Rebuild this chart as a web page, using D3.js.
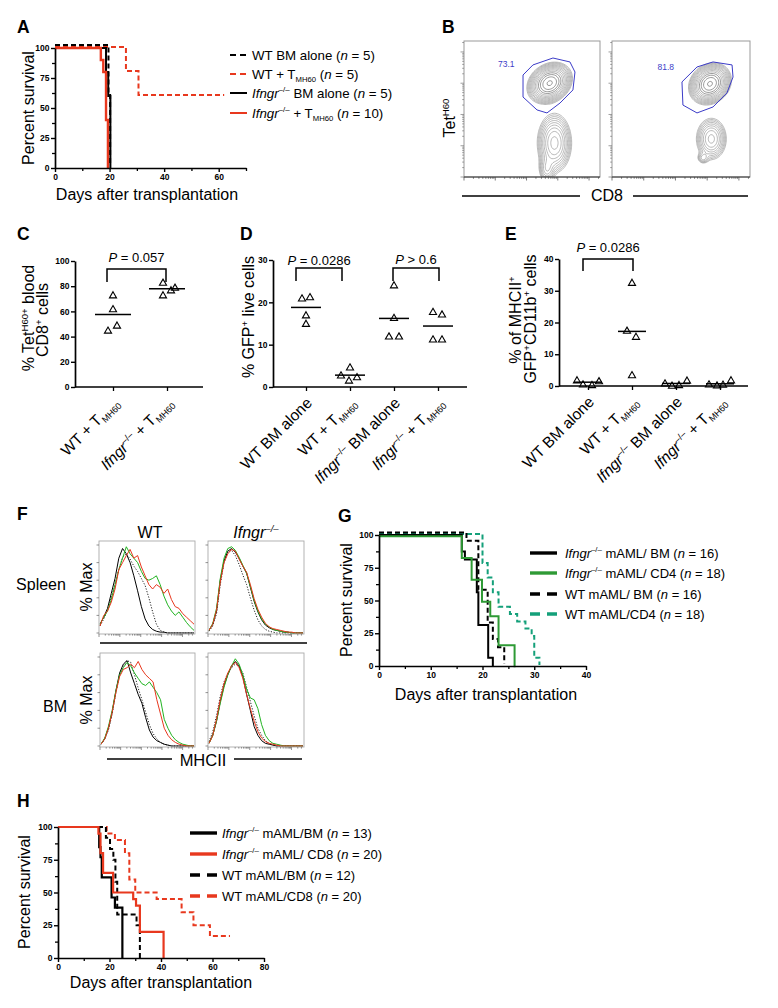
<!DOCTYPE html>
<html>
<head>
<meta charset="utf-8">
<script src="https://cdn.jsdelivr.net/npm/d3@7/dist/d3.min.js"></script>
<style>
html,body{margin:0;padding:0;background:#fff;}
svg text{font-family:"Liberation Sans",Arial,Helvetica,sans-serif;}
</style>
</head>
<body>
<svg id="fig" width="778" height="1008" xmlns="http://www.w3.org/2000/svg"></svg>
<script>
// ================= DATA =================
// ---- Panel A : survival (days, percent) ----
const aWtBmDays = [0, 19.6, 20.2];
const aWtBmSurv = [100, 60, 0];
const aWtTDays  = [0, 26, 30.6, 62];
const aWtTSurv  = [100, 80, 60, 60];
const aKoBmDays = [0, 18.7, 19.5, 20.3];
const aKoBmSurv = [100, 80, 60, 0];
const aKoTDays  = [0, 16.8, 17.7, 18.7, 19.4];
const aKoTSurv  = [100, 90, 80, 40, 0];
const aXTicks = [0, 20, 40, 60];
const aXMinor = [10, 30, 50, 70];
const survYTicks = [0, 25, 50, 75, 100];
const survYMinor = [12.5, 37.5, 62.5, 87.5];
const aLegend = [
  [["WT BM alone ("], ["n", "i"], [" = 5)"]],
  [["WT + T"], ["MH60", "sub"], [" ("], ["n", "i"], [" = 5)"]],
  [["Ifngr", "i"], ["–/–", "sup"], [" BM alone ("], ["n", "i"], [" = 5)"]],
  [["Ifngr", "i"], ["–/–", "sup"], [" + T"], ["MH60", "sub"], [" ("], ["n", "i"], [" = 10)"]]
];

// ---- Panel B : flow contour plots (populations in normalised axis units) ----
const bGateValues = ["73.1", "81.8"];
// [cx, cy, sx, sy, angleDeg, weight]
const bLeftPops = [[0.63, 0.69, 0.066, 0.052, 35, 1.0], [0.665, 0.25, 0.055, 0.095, 0, 0.35], [0.61, 0.06, 0.03, 0.05, 0, 0.12]];
const bRightPops = [[0.71, 0.685, 0.062, 0.052, 45, 1.0], [0.72, 0.28, 0.05, 0.07, 0, 0.26], [0.66, 0.14, 0.022, 0.022, 0, 0.08]];
const bLeftGate = [[0.434, 0.75], [0.507, 0.824], [0.654, 0.875], [0.779, 0.846], [0.816, 0.772], [0.801, 0.64], [0.706, 0.544], [0.61, 0.471], [0.537, 0.493], [0.434, 0.588]];
const bRightGate = [[0.507, 0.699], [0.616, 0.809], [0.732, 0.846], [0.87, 0.824], [0.877, 0.735], [0.833, 0.618], [0.732, 0.515], [0.616, 0.471], [0.514, 0.529]];

// ---- Panel C ----
const cCats = [
  [["WT + T"], ["MH60", "sub"]],
  [["Ifngr", "i"], ["–/–", "sup"], [" + T"], ["MH60", "sub"]]
];
const cWt = [73, 62, 45, 49];
const cKo = [83, 73, 77, 79];
const cMedians = [57.5, 78];
const cYTicks = [0, 20, 40, 60, 80, 100];
const cP = "0.057";

// ---- Panel D ----
const deCats = [
  [["WT BM alone"]],
  [["WT + T"], ["MH60", "sub"]],
  [["Ifngr", "i"], ["–/–", "sup"], [" BM alone"]],
  [["Ifngr", "i"], ["–/–", "sup"], [" + T"], ["MH60", "sub"]]
];
const dWtBm = [21, 21.3, 17, 15];
const dWtT  = [4.7, 2.8, 1.6, 2.4];
const dKoBm = [24.1, 16.4, 12, 12];
const dKoT  = [17.8, 17.2, 11.3, 11.3];
const dMedians = [18.8, 2.8, 16.2, 14.4];
const dYTicks = [0, 10, 20, 30];
const dP = ["= 0.0286", "> 0.6"];

// ---- Panel E ----
const eWtBm = [1.9, 0.6, 0.4, 1.6];
const eWtT  = [32.6, 17.5, 15.6, 3.5];
const eKoBm = [0.9, 0.2, 0.4, 1.8];
const eKoT  = [0.6, 0.3, 0.5, 1.9];
const eMedians = [1.2, 17.2, 0.8, 0.7];
const eYTicks = [0, 10, 20, 30, 40];
const eP = "= 0.0286";

// ---- Panel F : MHCII histograms (% of max, 26 channels) ----
const fSpWtBlack = [10,18,28,45,62,85,96,90,80,65,48,30,16,8,4,2,1,1,0,0,0,0,0,0,0,0];
const fSpWtDot   = [8,16,26,40,55,72,86,90,84,76,70,62,54,40,24,10,3,1,0,0,0,0,0,0,0,0];
const fSpWtGreen = [10,18,25,38,55,72,85,98,90,85,80,70,62,60,62,65,55,42,32,25,20,24,18,12,7,3];
const fSpWtRed   = [8,20,25,35,50,72,80,88,95,85,88,75,65,55,50,55,52,45,50,38,30,28,22,18,14,10];
const fSpKoBlack = [3,10,25,60,82,93,96,92,85,76,68,52,36,24,15,9,6,4,3,2,1,1,0,0,0,0];
const fSpKoDot   = [2,8,22,55,80,92,94,88,78,66,55,40,26,15,8,4,2,1,0,0,0,0,0,0,0,0];
const fSpKoGreen = [3,11,28,62,85,96,98,94,86,77,68,53,37,25,16,10,7,4,3,2,1,1,0,0,0,0];
const fSpKoRed   = [3,10,26,58,80,90,95,93,84,76,69,55,39,27,18,11,7,5,4,3,2,1,1,0,0,0];
const fBmWtBlack = [2,8,20,38,62,82,92,96,82,70,58,48,32,18,10,6,4,2,1,0,0,0,0,0,0,0];
const fBmWtDot   = [2,8,18,36,60,80,90,96,94,80,65,52,38,24,14,8,4,2,1,0,0,0,0,0,0,0];
const fBmWtGreen = [2,9,22,40,62,80,88,94,90,82,76,70,68,72,66,60,52,30,20,12,7,4,2,1,0,0];
const fBmWtRed   = [2,8,20,38,60,78,86,88,92,88,95,86,80,76,72,52,36,20,12,7,4,2,1,0,0,0];
const fBmKoBlack = [3,12,28,50,68,80,90,95,90,78,58,40,22,12,6,3,2,1,0,0,0,0,0,0,0,0];
const fBmKoDot   = [5,16,34,56,72,82,88,92,90,82,66,50,34,20,12,6,3,1,0,0,0,0,0,0,0,0];
const fBmKoGreen = [3,12,28,48,66,80,90,98,92,80,64,54,52,42,24,12,6,3,2,1,0,0,0,0,0,0];
const fBmKoRed   = [3,12,30,52,70,82,90,94,88,76,58,42,28,16,9,5,3,2,1,0,0,0,0,0,0,0];
const fYTicks = [0, 20, 40, 60, 80, 100];

// ---- Panel G : survival ----
const gKoBmDays  = [0, 16, 16.6, 18.9, 19.2, 21.1, 22];
const gKoBmSurv  = [100, 87.5, 81.25, 56.25, 31.25, 6.25, 0];
const gKoCd4Days = [0, 16, 17.9, 19.9, 21.5, 23.1, 26.2];
const gKoCd4Surv = [100, 83.3, 66.7, 50, 38.9, 16.7, 0];
const gWtBmDays  = [0, 16.9, 19.2, 21, 22, 23, 24.2];
const gWtBmSurv  = [100, 93.75, 56.25, 31.25, 18.75, 12.5, 0];
const gWtCd4Days = [0, 20, 21, 22, 23.1, 25.3, 26.7, 28.3, 29.5, 30, 31];
const gWtCd4Surv = [100, 77.8, 66.7, 55.6, 44.4, 38.9, 33.3, 27.8, 22.2, 5.6, 0];
const gXTicks = [0, 10, 20, 30, 40];
const gXMinor = [5, 15, 25, 35];
const gLegend = [
  [["Ifngr", "i"], ["–/–", "sup"], [" mAML/ BM ("], ["n", "i"], [" = 16)"]],
  [["Ifngr", "i"], ["–/–", "sup"], [" mAML/ CD4 ("], ["n", "i"], [" = 18)"]],
  [["WT mAML/ BM ("], ["n", "i"], [" = 16)"]],
  [["WT mAML/CD4 ("], ["n", "i"], [" = 18)"]]
];

// ---- Panel H : survival ----
const hKoBmDays  = [0, 16, 16.5, 17, 20.8, 22.1, 25];
const hKoBmSurv  = [100, 84.6, 76.9, 61.5, 46.2, 38.5, 0];
const hKoCd8Days = [0, 15.7, 16.5, 17.5, 21.4, 29.2, 30.3, 31.8, 41];
const hKoCd8Surv = [100, 95, 80, 65, 50, 45, 40, 20, 0];
const hWtBmDays  = [0, 18.6, 20.2, 21.5, 22.3, 23, 30.5, 31.8];
const hWtBmSurv  = [100, 91.7, 83.3, 75, 58.3, 33.3, 25, 0];
const hWtCd8Days = [0, 18.9, 22.1, 26, 27.7, 30, 38.3, 48, 52.6, 59, 66.8];
const hWtCd8Surv = [100, 95, 90, 80, 60, 50, 45, 35, 25, 16.7, 16.7];
const hXTicks = [0, 20, 40, 60, 80];
const hXMinor = [10, 30, 50, 70];
const hLegend = [
  [["Ifngr", "i"], ["–/–", "sup"], [" mAML/BM ("], ["n", "i"], [" = 13)"]],
  [["Ifngr", "i"], ["–/–", "sup"], [" mAML/ CD8 ("], ["n", "i"], [" = 20)"]],
  [["WT mAML/BM ("], ["n", "i"], [" = 12)"]],
  [["WT mAML/CD8 ("], ["n", "i"], [" = 20)"]]
];

// ================= RENDERING =================
const FONT = '"Liberation Sans", Arial, Helvetica, sans-serif';
const RED = "#e8381e", GREEN = "#2e9a35", TEAL = "#14a07a", HGREEN = "#22b422", BLUE = "#3c3cc8";
const svg = d3.select("#fig");
svg.append("rect").attr("width", 778).attr("height", 1008).attr("fill", "#fff");

function rich(t, parts, fs) {
  let cur = 0;
  parts.forEach(p => {
    const s = p[0], st = p[1] || "";
    const sp = t.append("tspan").text(s);
    let off = 0, size = null;
    if (st.includes("sup")) { off = -0.4 * fs; size = 0.6 * fs; }
    else if (st.includes("sub")) { off = 0.22 * fs; size = 0.58 * fs; }
    if (size) sp.attr("font-size", size);
    if (st.includes("i")) sp.attr("font-style", "italic");
    if (off !== cur) sp.attr("dy", off - cur);
    cur = off;
  });
}
function txt(x, y, parts, fs, o = {}) {
  const t = svg.append("text").attr("x", x).attr("y", y).attr("font-size", fs)
    .attr("text-anchor", o.anchor || "start").attr("fill", o.fill || "#000").attr("font-family", FONT);
  if (o.rotate) t.attr("transform", `rotate(${o.rotate},${x},${y})`);
  if (o.bold) t.attr("font-weight", "bold");
  rich(t, parts, fs);
  return t;
}
function letter(x, y, s) { txt(x, y, [[s]], 17.5, { bold: true }); }
function styleAxis(g) {
  g.select(".domain").attr("stroke", "#000").attr("stroke-width", 1.7);
  g.selectAll(".tick line").attr("stroke", "#000").attr("stroke-width", 1.4);
  g.selectAll(".tick text").attr("font-weight", "bold").attr("font-size", 8.5).attr("fill", "#000").attr("font-family", FONT);
}
function minorTicks(g) {
  g.select(".domain").remove();
  g.selectAll(".tick line").attr("stroke", "#000").attr("stroke-width", 1.3);
}

// ---------- survival panels ----------
function survival(o) {
  const g = svg.append("g");
  const x = d3.scaleLinear().domain(o.xDomain).range(o.xRange);
  const y = d3.scaleLinear().domain([0, 100]).range(o.yRange);
  o.series.forEach(s => {
    const line = d3.line().x(d => x(d[0])).y(d => y(d[1]) + (s.dy || 0)).curve(d3.curveStepAfter);
    g.append("path").attr("d", line(d3.zip(s.days, s.surv))).attr("fill", "none")
      .attr("stroke", s.color).attr("stroke-width", s.w).attr("stroke-dasharray", s.dash || null);
  });
  g.append("g").attr("transform", `translate(0,${y(0)})`)
    .call(d3.axisBottom(x).tickValues(o.xMinor).tickSize(3).tickFormat("")).call(minorTicks);
  g.append("g").attr("transform", `translate(${x(0)},0)`)
    .call(d3.axisLeft(y).tickValues(survYMinor).tickSize(3).tickFormat("")).call(minorTicks);
  g.append("g").attr("transform", `translate(0,${y(0)})`)
    .call(d3.axisBottom(x).tickValues(o.xTicks).tickSize(4).tickPadding(2).tickSizeOuter(0)).call(styleAxis);
  g.append("g").attr("transform", `translate(${x(0)},0)`)
    .call(d3.axisLeft(y).tickValues(survYTicks).tickSize(4).tickPadding(1.5).tickSizeOuter(0)).call(styleAxis);
  txt(o.xTitle[0], o.xTitle[1], [["Days after transplantation"]], 16, { anchor: "middle" });
  txt(o.yTitle[0], o.yTitle[1], [["Percent survival"]], 16, { anchor: "middle", rotate: -90 });
  o.legend.forEach((parts, i) => {
    const s = o.legendStyle[i], yy = o.legendY[i];
    g.append("line").attr("x1", o.legendX[0]).attr("x2", o.legendX[1]).attr("y1", yy).attr("y2", yy)
      .attr("stroke", s.color).attr("stroke-width", o.legendW).attr("stroke-dasharray", s.dash ? o.legendDash : null);
    txt(o.legendX[2], yy + 4.6, parts, o.legendFs);
  });
}

// Panel A
letter(17, 33, "A");
const aStyles = [
  { color: "#000", dash: true }, { color: RED, dash: true }, { color: "#000" }, { color: RED }
];
survival({
  xDomain: [0, 70], xRange: [55, 246], yRange: [168, 48],
  xTicks: aXTicks, xMinor: aXMinor,
  series: [
    { days: aWtTDays, surv: aWtTSurv, color: RED, w: 2, dash: "5,3", dy: -1 },
    { days: aWtBmDays, surv: aWtBmSurv, color: "#000", w: 2, dash: "5,3", dy: -3 },
    { days: aKoBmDays, surv: aKoBmSurv, color: "#000", w: 2 },
    { days: aKoTDays, surv: aKoTSurv, color: RED, w: 2.4 }
  ],
  xTitle: [147, 200], yTitle: [33.5, 108],
  legend: aLegend, legendStyle: aStyles, legendY: [55, 74, 93, 113], legendX: [230, 247, 252],
  legendW: 2, legendDash: "6,4", legendFs: 13.3
});

// Panel G
letter(338, 522, "G");
survival({
  xDomain: [0, 40], xRange: [379, 586], yRange: [666, 535],
  xTicks: gXTicks, xMinor: gXMinor,
  series: [
    { days: gWtCd4Days, surv: gWtCd4Surv, color: TEAL, w: 2, dash: "5,3", dy: -1 },
    { days: gWtBmDays, surv: gWtBmSurv, color: "#000", w: 2, dash: "5,3", dy: -2.5 },
    { days: gKoBmDays, surv: gKoBmSurv, color: "#000", w: 2 },
    { days: gKoCd4Days, surv: gKoCd4Surv, color: GREEN, w: 2, dy: 1.2 }
  ],
  xTitle: [486, 700], yTitle: [352, 600],
  legend: gLegend, legendStyle: [{ color: "#000" }, { color: GREEN }, { color: "#000", dash: true }, { color: TEAL, dash: true }],
  legendY: [553, 573, 594, 614], legendX: [530, 557, 565], legendW: 3.4, legendDash: "10,7", legendFs: 13
});

// Panel H
letter(17, 807, "H");
survival({
  xDomain: [0, 80], xRange: [58, 264], yRange: [958, 827],
  xTicks: hXTicks, xMinor: hXMinor,
  series: [
    { days: hWtCd8Days, surv: hWtCd8Surv, color: RED, w: 2, dash: "5,3", dy: 0 },
    { days: hWtBmDays, surv: hWtBmSurv, color: "#000", w: 2, dash: "5,3", dy: 0 },
    { days: hKoBmDays, surv: hKoBmSurv, color: "#000", w: 2.2 },
    { days: hKoCd8Days, surv: hKoCd8Surv, color: RED, w: 2.2 }
  ],
  xTitle: [161, 988], yTitle: [30, 892],
  legend: hLegend, legendStyle: [{ color: "#000" }, { color: RED }, { color: "#000", dash: true }, { color: RED, dash: true }],
  legendY: [833, 854, 875, 896], legendX: [190, 217, 222], legendW: 3.4, legendDash: "10,7", legendFs: 13
});

// ---------- Panel B ----------
letter(442, 33, "B");
function flow(box, pops, gate, label, lpos) {
  const [x0, y0, x1, y1] = box;
  const w = x1 - x0, h = y1 - y0;
  const g = svg.append("g");
  const n = 100;
  const vals = new Array(n * n);
  for (let j = 0; j < n; j++) for (let i = 0; i < n; i++) {
    const px = (i + 0.5) / n, py = 1 - (j + 0.5) / n;
    let s = 0;
    pops.forEach(([cx, cy, sx, sy, ang, wt]) => {
      const a = ang * Math.PI / 180, dx = px - cx, dy = py - cy;
      const u = dx * Math.cos(a) + dy * Math.sin(a), v = -dx * Math.sin(a) + dy * Math.cos(a);
      s += wt * Math.exp(-0.5 * (u * u / (sx * sx) + v * v / (sy * sy)));
    });
    vals[j * n + i] = s;
  }
  const th = d3.range(14).map(k => 0.025 * Math.pow(0.95 / 0.025, k / 13));
  const cs = d3.contours().size([n, n]).thresholds(th)(vals);
  const tr = d3.geoTransform({ point(px, py) { this.stream.point(x0 + px * w / n, y0 + py * h / n); } });
  const clipId = "clip" + Math.round(x0);
  svg.append("clipPath").attr("id", clipId).append("rect").attr("x", x0).attr("y", y0).attr("width", w).attr("height", h);
  g.append("g").attr("clip-path", `url(#${clipId})`).selectAll("path").data(cs).join("path")
    .attr("d", d3.geoPath(tr)).attr("fill", "none")
    .attr("stroke", (d, i) => i > 9 ? "#555" : "#8c8c8c").attr("stroke-width", 0.6);
  g.append("rect").attr("x", x0).attr("y", y0).attr("width", w).attr("height", h)
    .attr("fill", "none").attr("stroke", "#9a9a9a").attr("stroke-width", 1);
  g.append("line").attr("x1", x0).attr("x2", x1).attr("y1", y1).attr("y2", y1).attr("stroke", "#333").attr("stroke-width", 1.2);
  const bx = d3.scaleLinear().domain([0, 1]).range([x0, x1]);
  const by = d3.scaleLinear().domain([0, 1]).range([y1, y0]);
  g.append("path").attr("d", d3.line().x(d => bx(d[0])).y(d => by(d[1])).curve(d3.curveLinearClosed)(gate))
    .attr("fill", "none").attr("stroke", BLUE).attr("stroke-width", 1);
  txt(bx(lpos[0]), by(lpos[1]), [[label]], 8.5, { fill: BLUE });
  const lx = d3.scaleLog().domain([1, Math.pow(10, 4.35)]).range([x0, x1]);
  const ly = d3.scaleLog().domain([1, Math.pow(10, 4.35)]).range([y1, y0]);
  const isMajor = v => Math.abs(Math.log10(v) - Math.round(Math.log10(v))) < 1e-6;
  lx.ticks().forEach(v => { const L = isMajor(v) ? 3.5 : 1.8;
    g.append("line").attr("x1", lx(v)).attr("x2", lx(v)).attr("y1", y1).attr("y2", y1 + L).attr("stroke", "#444").attr("stroke-width", 0.7); });
  ly.ticks().forEach(v => { const L = isMajor(v) ? 3.5 : 1.8;
    g.append("line").attr("y1", ly(v)).attr("y2", ly(v)).attr("x1", x0).attr("x2", x0 - L).attr("stroke", "#777").attr("stroke-width", 0.7); });
}
flow([464, 41, 600, 177], bLeftPops, bLeftGate, bGateValues[0], [0.25, 0.81]);
flow([612, 41, 750, 177], bRightPops, bRightGate, bGateValues[1], [0.33, 0.79]);
txt(455, 118, [["Tet"], ["H60", "sup"]], 16, { anchor: "middle", rotate: -90 });
svg.append("line").attr("x1", 462).attr("x2", 580).attr("y1", 196).attr("y2", 196).attr("stroke", "#000").attr("stroke-width", 1.3);
svg.append("line").attr("x1", 633).attr("x2", 748).attr("y1", 196).attr("y2", 196).attr("stroke", "#000").attr("stroke-width", 1.3);
txt(607, 201, [["CD8"]], 16, { anchor: "middle" });

// ---------- dot plots C, D, E ----------
function dotPlot(o) {
  const g = svg.append("g");
  const y = d3.scaleLinear().domain(o.yDomain).range(o.yRange);
  const x = d3.scalePoint().domain(d3.range(o.cats.length)).range(o.catRange);
  const y0 = y(0);
  g.append("line").attr("x1", o.axisX[0]).attr("x2", o.axisX[1]).attr("y1", y0).attr("y2", y0).attr("stroke", "#000").attr("stroke-width", 1.7);
  g.append("g").attr("transform", `translate(0,${y0})`)
    .call(d3.axisBottom(x).tickSize(4).tickFormat("")).call(minorTicks);
  g.append("g").attr("transform", `translate(${o.axisX[0]},0)`)
    .call(d3.axisLeft(y).tickValues(o.yTicks).tickSize(4).tickPadding(1.5).tickSizeOuter(0)).call(styleAxis);
  const tri = d3.symbol().type(d3.symbolTriangle).size(22)();
  o.groups.forEach((vals, i) => {
    vals.forEach((v, k) => {
      g.append("path").attr("d", tri).attr("transform", `translate(${x(i) + o.jitter[i][k]},${y(v) + 0.8})`)
        .attr("fill", "none").attr("stroke", "#000").attr("stroke-width", 1.1);
    });
    g.append("line").attr("x1", x(i) - o.medW / 2).attr("x2", x(i) + o.medW / 2)
      .attr("y1", y(o.medians[i])).attr("y2", y(o.medians[i])).attr("stroke", "#000").attr("stroke-width", 1.5);
  });
  o.cats.forEach((parts, i) => {
    txt(x(i) + 7, y0 + 17, parts, 15.5, { anchor: "end", rotate: -45 });
  });
  o.brackets.forEach(b => {
    const xa = x(b.a) + b.off[0], xb = x(b.b) + b.off[1];
    g.append("path").attr("d", `M${xa},${b.bot}V${b.top}H${xb}V${b.bot}`).attr("fill", "none").attr("stroke", "#000").attr("stroke-width", 1.5);
    txt((xa + xb) / 2, b.ty, [["P", "i"], [" " + b.label]], 13, { anchor: "middle" });
  });
}

letter(17, 240, "C");
dotPlot({
  cats: cCats, groups: [cWt, cKo], medians: cMedians, yDomain: [0, 100], yRange: [387, 261],
  axisX: [75, 203], catRange: [113, 167], yTicks: cYTicks, medW: 36,
  jitter: [[0, 0, -5, 4], [-4, -4, 4, 8]],
  brackets: [{ a: 0, b: 1, off: [-6, -1], top: 269, bot: 282, ty: 262, label: "= " + cP }]
});
txt(34, 318, [["% Tet"], ["H60+", "sup"], [" blood"]], 16, { anchor: "middle", rotate: -90 });
txt(48, 320, [["CD8"], ["+", "sup"], [" cells"]], 16, { anchor: "middle", rotate: -90 });

letter(240, 240, "D");
dotPlot({
  cats: deCats, groups: [dWtBm, dWtT, dKoBm, dKoT], medians: dMedians, yDomain: [0, 30], yRange: [387, 260],
  axisX: [273, 467], catRange: [306, 438], yTicks: dYTicks, medW: 30,
  jitter: [[-4, 4, 0, 0], [0, -9, -1, 7], [0, 0, -5, 5], [-5, 4, -5, 4]],
  brackets: [
    { a: 0, b: 1, off: [-10, -8], top: 268, bot: 281, ty: 265, label: dP[0] },
    { a: 2, b: 3, off: [-1, 1], top: 268, bot: 281, ty: 264, label: dP[1] }
  ]
});
txt(254, 317, [["% GFP"], ["+", "sup"], [" live cells"]], 16, { anchor: "middle", rotate: -90 });

letter(505, 240, "E");
dotPlot({
  cats: deCats, groups: [eWtBm, eWtT, eKoBm, eKoT], medians: eMedians, yDomain: [0, 40], yRange: [386, 259],
  axisX: [559, 748], catRange: [588, 720], yTicks: eYTicks, medW: 28,
  jitter: [[-11, -5, 4, 11], [0, -5, 4, 0], [-11, -4, 3, 11], [-11, -3, 3, 11]],
  brackets: [{ a: 0, b: 1, off: [-5, 1], top: 259, bot: 271, ty: 252, label: eP }]
});
txt(521, 320, [["% of MHCII"], ["+", "sup"]], 16, { anchor: "middle", rotate: -90 });
txt(536, 319, [["GFP"], ["+", "sup"], ["CD11b"], ["+", "sup"], [" cells"]], 16, { anchor: "middle", rotate: -90 });

// ---------- Panel F ----------
letter(17, 520, "F");
function hist(box, curves) {
  const [x0, y0, x1, y1] = box;
  const g = svg.append("g");
  const hx = d3.scaleLinear().domain([0, 25]).range([x0 + 1, x1 - 1]);
  const hy = d3.scaleLinear().domain([0, 100]).range([y1 - 1, y0 + 4]);
  const clipId = "hc" + x0 + "_" + y0;
  svg.append("clipPath").attr("id", clipId).append("rect").attr("x", x0).attr("y", y0).attr("width", x1 - x0).attr("height", y1 - y0);
  const cg = g.append("g").attr("clip-path", `url(#${clipId})`);
  curves.forEach(c => {
    cg.append("path").attr("d", d3.line().x((d, i) => hx(i)).y(d => hy(d))(c.v))
      .attr("fill", "none").attr("stroke", c.color).attr("stroke-width", c.w || 1)
      .attr("stroke-dasharray", c.dash || null);
  });
  g.append("rect").attr("x", x0).attr("y", y0).attr("width", x1 - x0).attr("height", y1 - y0)
    .attr("fill", "none").attr("stroke", "#aaa").attr("stroke-width", 0.9);
  fYTicks.forEach(v => g.append("line").attr("x1", x0).attr("x2", x0 - 2.5).attr("y1", hy(v)).attr("y2", hy(v)).attr("stroke", "#666").attr("stroke-width", 0.7));
  const lx = d3.scaleLog().domain([1, Math.pow(10, 4.6)]).range([x0, x1]);
  lx.ticks().forEach(v => {
    const maj = Math.abs(Math.log10(v) - Math.round(Math.log10(v))) < 1e-6;
    g.append("line").attr("x1", lx(v)).attr("x2", lx(v)).attr("y1", y1).attr("y2", y1 + (maj ? 3 : 1.6)).attr("stroke", "#666").attr("stroke-width", 0.7);
  });
}
const curveSet = (k, d, gr, r) => [
  { v: k, color: "#000" }, { v: d, color: "#222", dash: "1.2,1.6" }, { v: gr, color: HGREEN }, { v: r, color: RED }
];
hist([99, 541, 195, 634], curveSet(fSpWtBlack, fSpWtDot, fSpWtGreen, fSpWtRed));
hist([208, 541, 304, 634], curveSet(fSpKoBlack, fSpKoDot, fSpKoGreen, fSpKoRed));
hist([100, 653, 195, 747], curveSet(fBmWtBlack, fBmWtDot, fBmWtGreen, fBmWtRed));
hist([208, 653, 304, 747], curveSet(fBmKoBlack, fBmKoDot, fBmKoGreen, fBmKoRed));
txt(150, 538, [["WT"]], 16, { anchor: "middle" });
txt(256, 538, [["Ifngr", "i"], ["–/–", "isup"]], 16, { anchor: "middle" });
txt(41, 590, [["Spleen"]], 16, { anchor: "middle" });
txt(55, 712, [["BM"]], 16, { anchor: "middle" });
txt(92, 587, [["% Max"]], 16, { anchor: "middle", rotate: -90 });
txt(92, 700, [["% Max"]], 16, { anchor: "middle", rotate: -90 });
svg.append("line").attr("x1", 100).attr("x2", 307).attr("y1", 643).attr("y2", 643).attr("stroke", "#000").attr("stroke-width", 1.5);
svg.append("line").attr("x1", 107).attr("x2", 172).attr("y1", 759).attr("y2", 759).attr("stroke", "#000").attr("stroke-width", 1.3);
svg.append("line").attr("x1", 234).attr("x2", 302).attr("y1", 759).attr("y2", 759).attr("stroke", "#000").attr("stroke-width", 1.3);
txt(203, 766, [["MHCII"]], 16.5, { anchor: "middle" });
</script>
</body>
</html>
